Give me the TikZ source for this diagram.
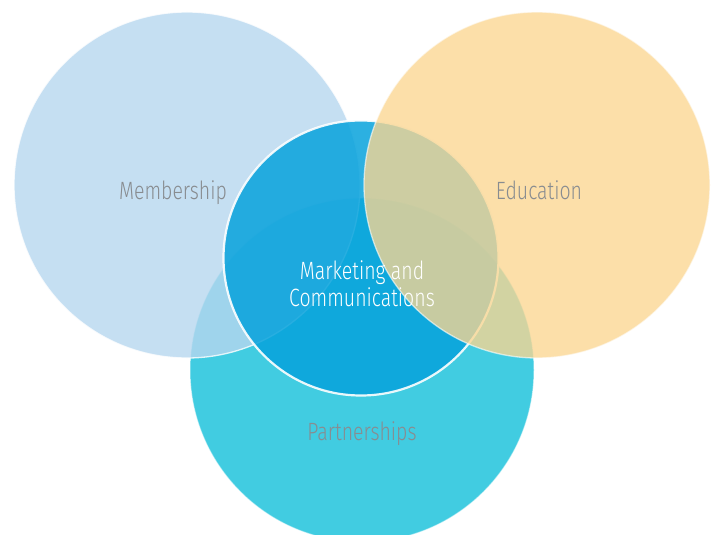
\documentclass[tikz,border=0pt]{standalone}
\usepackage{fontspec}
\newfontfamily\lblfont[FakeStretch=0.78]{Fira Sans Light}
\definecolor{partC}{RGB}{65,204,225}
\definecolor{memC}{RGB}{183,215,239}
\definecolor{mktC}{RGB}{7,162,220}
\definecolor{eduC}{RGB}{251,214,145}
\definecolor{labelgray}{RGB}{136,140,144}
\tikzset{
  bubble/.style={circle, inner sep=0pt, draw=white},
  caption/.style={font=\lblfont\fontsize{25}{27}\selectfont, text=labelgray, align=center, inner sep=0pt},
}
\begin{document}
\begin{tikzpicture}[x=1pt,y=-1pt]
\useasboundingbox (0,0) rectangle (717,535);
\clip (0,0) rectangle (717,535);
% four overlapping circles, back to front
\node[bubble, minimum size=344pt, fill=partC, line width=1pt, draw opacity=0.5] (part) at (362,370) {};
\node[bubble, minimum size=346pt, fill=memC, fill opacity=0.8, line width=1.3pt, draw opacity=0.8] (memb) at (187,185) {};
\node[bubble, minimum size=275pt, fill=mktC, fill opacity=0.85, line width=2.2pt, draw opacity=0.9] (mkt) at (361,258) {};
\node[bubble, minimum size=346pt, fill=eduC, fill opacity=0.78, line width=1.3pt, draw opacity=0.6] (edu) at (537,185) {};
% labels, placed on their baselines
\node[caption, anchor=base] (membtxt) at (173,199) {Membership};
\node[caption, anchor=base] (edutxt) at (539,199) {Education};
\node[caption, anchor=base] (parttxt) at (362,440) {Partnerships};
\node[caption, text=white] (mkttxt) at (362,284) {Marketing and\\Communications};
\end{tikzpicture}
\end{document}
